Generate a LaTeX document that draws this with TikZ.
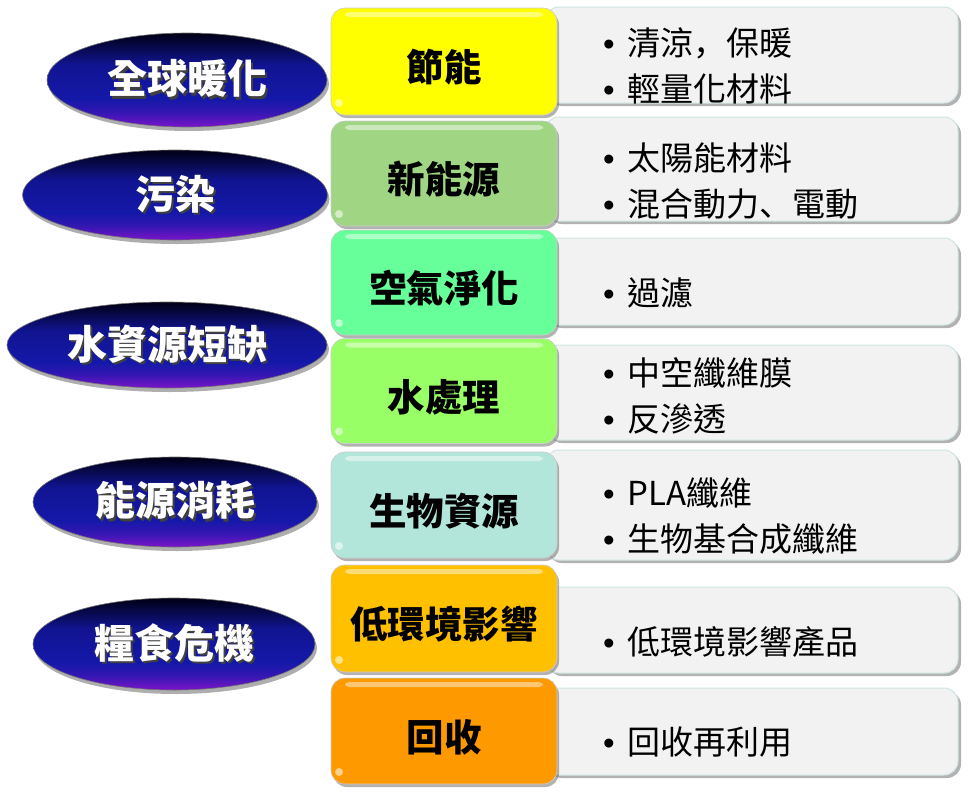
\documentclass[tikz,border=0pt]{standalone}
\usepackage{fontspec}
\setmainfont{Noto Sans CJK TC}
\newfontfamily\jpf{Noto Sans CJK JP}
\newfontfamily\latinf{Liberation Sans}
\usetikzlibrary{shadows,shapes.geometric}
\definecolor{cyel}{HTML}{FFFF00}
\definecolor{cgrn}{HTML}{A0D683}
\definecolor{cmint}{HTML}{66FF99}
\definecolor{clime}{HTML}{99FF66}
\definecolor{cteal}{HTML}{B3E6DA}
\definecolor{camb}{HTML}{FFC000}
\definecolor{corg}{HTML}{FF9900}
\definecolor{wfill}{HTML}{F2F2F2}
\definecolor{wedge}{HTML}{CFE6E4}
\definecolor{etop}{HTML}{000014}
\definecolor{emid}{HTML}{1418A8}
\definecolor{ebot}{HTML}{7A14C8}
\pgfdeclareverticalshading{ellshade}{100bp}{color(0bp)=(ebot); color(25bp)=(ebot); color(33bp)=(emid!70!ebot); color(40bp)=(emid); color(58bp)=(emid!85!etop); color(75bp)=(etop); color(100bp)=(etop)}
\newcommand\shtext[1]{\makebox[0pt][l]{\hspace{2.5pt}\raisebox{-2.5pt}{\textcolor{black!75}{#1}}}#1}
\newcommand\clab[1]{\raisebox{-6pt}[\height][\depth]{#1}}
\newcommand\bul{\makebox[27pt][l]{\hspace{3pt}{\latinf •}}}
\begin{document}
\begin{tikzpicture}[x=1pt,y=1pt,
  ell/.style={ellipse, inner sep=0pt, shading=ellshade,
    draw=black!55, line width=0.6pt, text=white,
    font=\fontsize{40}{42}\selectfont\bfseries,
    drop shadow={shadow xshift=2pt, shadow yshift=-4pt, opacity=0.45, fill=black!70}},
  cbox/.style={rectangle, rounded corners=14pt, minimum width=226pt, inner sep=0pt,
    draw=black!20, line width=0.6pt,
    font=\fontsize{37.5}{40}\selectfont\bfseries,
    drop shadow={shadow xshift=2pt, shadow yshift=-3pt, opacity=0.5, fill=black!60},
    path picture={
      \fill[white, opacity=0.45, rounded corners=4pt]
        ([xshift=14pt,yshift=-4pt]path picture bounding box.north west) rectangle
        ([xshift=-14pt,yshift=-9pt]path picture bounding box.north east);
      \fill[white, opacity=0.55]
        ([xshift=8pt,yshift=12pt]path picture bounding box.south west) circle[radius=4pt];
    }},
  wbox/.style={rectangle, rounded corners=14pt, fill=wfill, draw=wedge, line width=1pt,
    minimum width=413pt, inner sep=0pt,
    drop shadow={shadow xshift=3pt, shadow yshift=-3pt, opacity=0.55, fill=black!55}},
  ltext/.style={anchor=west, inner sep=0pt, align=left, text=black,
    font=\fontsize{33}{46}\selectfont}
]
\useasboundingbox (0,0) rectangle (970,-798);

% white boxes
\node[wbox, minimum height=96pt]  (w1) at (751.5,-55) {};
\node[wbox, minimum height=104pt] (w2) at (751.5,-169) {};
\node[wbox, minimum height=87pt]  (w3) at (751.5,-281.5) {};
\node[wbox, minimum height=95pt]  (w4) at (751.5,-392.5) {};
\node[wbox, minimum height=110pt] (w5) at (751.5,-505) {};
\node[wbox, minimum height=86pt]  (w6) at (751.5,-630) {};
\node[wbox, minimum height=87pt]  (w7) at (751.5,-731.5) {};

% coloured boxes
\node[cbox, fill=cyel,  minimum height=107pt] (c1) at (444,-61.5)  {\clab{節能}};
\node[cbox, fill=cgrn,  minimum height=105pt] (c2) at (444,-173.5) {\clab{新能源}};
\node[cbox, fill=cmint, minimum height=105pt] (c3) at (444,-282.5) {\clab{空氣淨化}};
\node[cbox, fill=clime, minimum height=105pt] (c4) at (444,-391)   {\clab{水處理}};
\node[cbox, fill=cteal, minimum height=106pt] (c5) at (444,-505)   {\clab{生物資源}};
\node[cbox, fill=camb,  minimum height=107pt] (c6) at (444,-618.5) {\clab{低環境影響}};
\node[cbox, fill=corg,  minimum height=106pt] (c7) at (444,-731)   {\clab{回收}};

% list texts
\node[ltext] (t1) at (600,-66)  {\bul 清涼{\jpf ，}保暖\\\bul 輕量化材料};
\node[ltext] (t2) at (600,-181) {\bul 太陽能材料\\\bul 混合動力{\jpf 、}電動};
\node[ltext] (t3) at (600,-293) {\bul 過濾};
\node[ltext] (t4) at (600,-396) {\bul 中空纖維膜\\\bul 反滲透};
\node[ltext] (t5) at (600,-516) {\bul PLA纖維\\\bul 生物基合成纖維};
\node[ltext] (t6) at (600,-642) {\bul 低環境影響產品};
\node[ltext] (t7) at (600,-742) {\bul 回收再利用};

% ellipses
\node[ell, minimum width=280pt, minimum height=94pt] (e1) at (187,-80)  {\shtext{全球暖化}};
\node[ell, minimum width=305pt, minimum height=90pt] (e2) at (175,-195) {\shtext{污染}};
\node[ell, minimum width=320pt, minimum height=86pt] (e3) at (167,-345) {\shtext{水資源短缺}};
\node[ell, minimum width=284pt, minimum height=90pt] (e4) at (175,-502) {\shtext{能源消耗}};
\node[ell, minimum width=282pt, minimum height=92pt] (e5) at (174,-644) {\shtext{糧食危機}};
\end{tikzpicture}
\end{document}
